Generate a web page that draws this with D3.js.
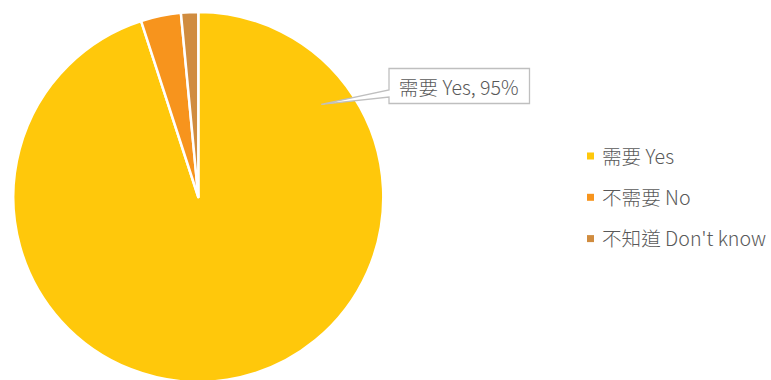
<!DOCTYPE html>
<html>
<head>
<meta charset="utf-8">
<script src="https://cdn.jsdelivr.net/npm/d3@7"></script>
<style>
  html, body { margin: 0; padding: 0; background: #fff; }
  svg { display: block; }
  text { font-family: "Noto Sans CJK TC", "Noto Sans", sans-serif; fill: #595959; font-weight: 300; }
</style>
</head>
<body>
<svg id="chart" width="771" height="380"></svg>
<script>
// Survey answers (percent share)
const categories = ["需要 Yes", "不需要 No", "不知道 Don't know"];
const values = [95, 3.5, 1.5];
const colors = ["#FFC80B", "#F7941D", "#D08C3F"];
const calloutText = "需要 Yes, 95%";

const W = 771, H = 380;
const cx = 198.3, cy = 197, radius = 185;
const fontSize = 19.6;

const svg = d3.select("#chart");

const pie = d3.pie().sort(null).value(d => d)(values);
const arc = d3.arc().innerRadius(0).outerRadius(radius);
const color = d3.scaleOrdinal().domain(categories).range(colors);

const g = svg.append("g").attr("transform", `translate(${cx},${cy})`);
g.selectAll("path.slice")
  .data(pie)
  .join("path")
  .attr("class", "slice")
  .attr("d", arc)
  .attr("fill", (d, i) => color(categories[i]))
  .attr("stroke", "#fff")
  .attr("stroke-width", 2.5)
  .attr("stroke-linejoin", "round");

// Callout for the first slice: tail points into the slice, box sits to the upper right
const first = pie[0];
const tipAngle = first.startAngle + (first.endAngle - first.startAngle) * 0.155;
const [tx, ty] = d3.pointRadial(tipAngle, radius * 0.832);
const tip = [cx + tx, cy + ty];

const box = { x: 389, y: 68.5, w: 140.5, h: 35 };
const tailTop = box.y + 21.5, tailBottom = box.y + 28.5;

const calloutPath = d3.path();
calloutPath.moveTo(box.x, box.y);
calloutPath.lineTo(box.x + box.w, box.y);
calloutPath.lineTo(box.x + box.w, box.y + box.h);
calloutPath.lineTo(box.x, box.y + box.h);
calloutPath.lineTo(box.x, tailBottom);
calloutPath.lineTo(tip[0], tip[1]);
calloutPath.lineTo(box.x, tailTop);
calloutPath.closePath();

svg.append("path")
  .attr("d", calloutPath.toString())
  .attr("fill", "#fff")
  .attr("stroke", "#BFBFBF")
  .attr("stroke-width", 1.3)
  .attr("stroke-linejoin", "miter");

svg.append("text")
  .attr("x", box.x + box.w / 2 - 0.5)
  .attr("y", box.y + box.h / 2)
  .attr("text-anchor", "middle")
  .attr("dominant-baseline", "central")
  .attr("font-size", fontSize)
  .text(calloutText);

// Legend
const legendX = 587, legendY0 = 156, legendStep = 41.3;
const legend = svg.append("g");
const rows = legend.selectAll("g.row")
  .data(categories)
  .join("g")
  .attr("class", "row")
  .attr("transform", (d, i) => `translate(${legendX},${legendY0 + i * legendStep})`);
rows.append("rect")
  .attr("x", 0).attr("y", -3.5)
  .attr("width", 7).attr("height", 7)
  .attr("fill", d => color(d));
rows.append("text")
  .attr("x", 15)
  .attr("y", -1)
  .attr("dominant-baseline", "central")
  .attr("font-size", fontSize)
  .text(d => d);
</script>
</body>
</html>
